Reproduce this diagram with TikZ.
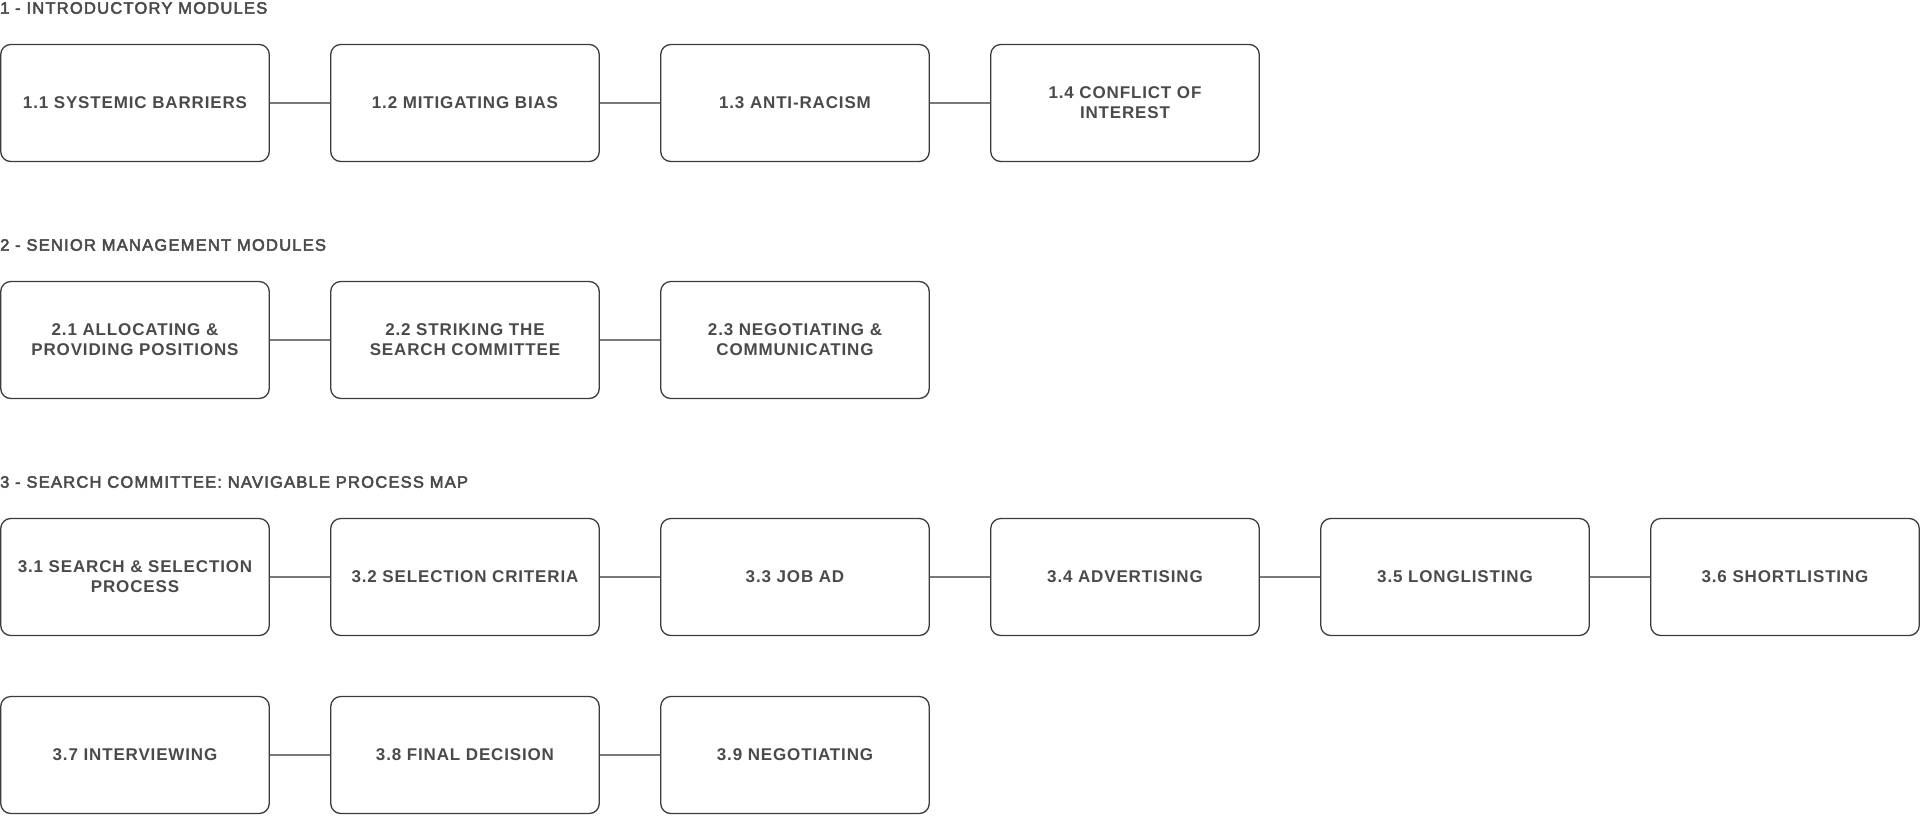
\documentclass[tikz,border=0pt]{standalone}
\usepackage{fontspec}
\setmainfont{Liberation Sans}
\newfontfamily\boxfont{Liberation Sans}[LetterSpace=5]
\newfontfamily\headfont{Liberation Sans}[LetterSpace=7.5,FakeBold=3]
\definecolor{txt}{HTML}{4A4A4A}
\definecolor{edge}{HTML}{3C3C3C}
\definecolor{link}{HTML}{7A7A7A}
\begin{document}
\begin{tikzpicture}[x=1pt,y=-1pt,
  modbox/.style={draw=edge,line width=1.3pt,rounded corners=10pt,
    minimum width=268.5pt,minimum height=117pt,inner sep=0pt,
    align=center,text=txt,font=\boxfont\fontsize{17}{20}\selectfont\bfseries},
  heading/.style={anchor=west,inner sep=0pt,text=txt,
    font=\headfont\fontsize{16.5}{20}\selectfont},
  linkline/.style={draw=link,line width=1.3pt}]
\useasboundingbox (0,0) rectangle (1920,815);
% headings
\node[heading] (h1) at (0,8) {1 - INTRODUCTORY MODULES};
\node[heading] (h2) at (0,245) {2 - SENIOR MANAGEMENT MODULES};
\node[heading] (h3) at (0,482) {3 - SEARCH COMMITTEE: NAVIGABLE PROCESS MAP};
% row 1
\node[modbox] (m11) at (135,103) {1.1 SYSTEMIC BARRIERS};
\node[modbox] (m12) at (465,103) {1.2 MITIGATING BIAS};
\node[modbox] (m13) at (795,103) {1.3 ANTI-RACISM};
\node[modbox] (m14) at (1125,103) {1.4 CONFLICT OF\\INTEREST};
% row 2
\node[modbox] (m21) at (135,340) {2.1 ALLOCATING \&\\PROVIDING POSITIONS};
\node[modbox] (m22) at (465,340) {2.2 STRIKING THE\\SEARCH COMMITTEE};
\node[modbox] (m23) at (795,340) {2.3 NEGOTIATING \&\\COMMUNICATING};
% row 3
\node[modbox] (m31) at (135,577) {3.1 SEARCH \& SELECTION\\PROCESS};
\node[modbox] (m32) at (465,577) {3.2 SELECTION CRITERIA};
\node[modbox] (m33) at (795,577) {3.3 JOB AD};
\node[modbox] (m34) at (1125,577) {3.4 ADVERTISING};
\node[modbox] (m35) at (1455,577) {3.5 LONGLISTING};
\node[modbox] (m36) at (1785,577) {3.6 SHORTLISTING};
% row 4
\node[modbox] (m37) at (135,755) {3.7 INTERVIEWING};
\node[modbox] (m38) at (465,755) {3.8 FINAL DECISION};
\node[modbox] (m39) at (795,755) {3.9 NEGOTIATING};
% connectors
\draw[linkline] (m11) -- (m12);
\draw[linkline] (m12) -- (m13);
\draw[linkline] (m13) -- (m14);
\draw[linkline] (m21) -- (m22);
\draw[linkline] (m22) -- (m23);
\draw[linkline] (m31) -- (m32);
\draw[linkline] (m32) -- (m33);
\draw[linkline] (m33) -- (m34);
\draw[linkline] (m34) -- (m35);
\draw[linkline] (m35) -- (m36);
\draw[linkline] (m37) -- (m38);
\draw[linkline] (m38) -- (m39);
\end{tikzpicture}
\end{document}
